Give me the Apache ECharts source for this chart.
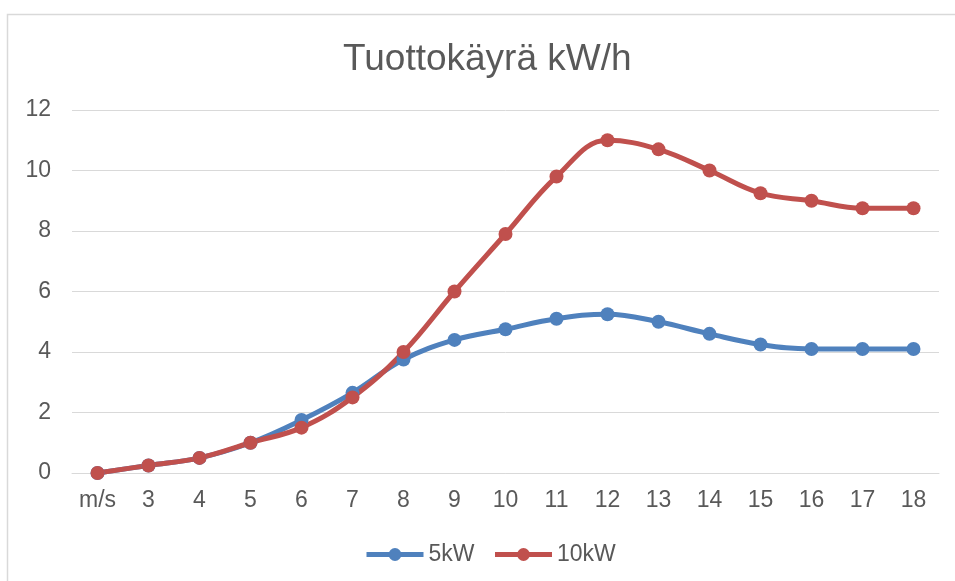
<!DOCTYPE html>
<html>
<head>
<meta charset="utf-8">
<script src="https://cdn.jsdelivr.net/npm/echarts@6/dist/echarts.min.js"></script>
<style>
  html, body { margin: 0; padding: 0; background: #ffffff; }
  #main { width: 955px; height: 581px; }
</style>
</head>
<body>
<div id="main"></div>
<script>
    // data
    var categories = ['m/s', '3', '4', '5', '6', '7', '8', '9', '10', '11', '12', '13', '14', '15', '16', '17', '18'];
    var values5kW = [0, 0.25, 0.5, 1, 1.75, 2.65, 3.75, 4.4, 4.75, 5.1, 5.25, 5, 4.6, 4.25, 4.1, 4.1, 4.1];
    var values10kW = [0, 0.25, 0.5, 1, 1.5, 2.5, 4, 6, 7.9, 9.8, 11, 10.7, 10, 9.25, 9, 8.75, 8.75];
    var yTicks = { min: 0, max: 12, interval: 2 };

    var chartDom = document.getElementById('main');
    var myChart = echarts.init(chartDom);
    var textColor = '#595959';
    var fontFamily = '"Liberation Sans", Arial, sans-serif';

    function makeSeries(name, data, color) {
        return {
            name: name,
            type: 'line',
            data: data,
            smooth: 0.4,
            symbol: 'circle',
            symbolSize: 14,
            lineStyle: { width: 5, color: color },
            itemStyle: { color: color },
            emphasis: { disabled: true }
        };
    }

    var option = {
        animation: false,
        color: ['#4F81BD', '#C0504D'],
        title: {
            text: 'Tuottokäyrä kW/h',
            left: 338,
            top: 36,
            textStyle: {
                fontFamily: fontFamily,
                fontSize: 37,
                fontWeight: 'normal',
                color: textColor
            }
        },
        // light frame of the original chart box
        graphic: [{
            type: 'rect',
            shape: { x: 7.5, y: 14.5, width: 1000, height: 1000 },
            style: { fill: 'none', stroke: '#D9D9D9', lineWidth: 1.5 },
            silent: true
        }],
        legend: {
            bottom: 10,
            left: 359,
            itemWidth: 57,
            itemHeight: 16,
            itemGap: 18,
            lineStyle: { width: 5 },
            textStyle: {
                fontFamily: fontFamily,
                fontSize: 23,
                color: textColor
            },
            data: ['5kW', '10kW']
        },
        grid: {
            left: 72,
            right: 16,
            top: 110,
            bottom: 108
        },
        xAxis: {
            type: 'category',
            data: categories,
            boundaryGap: true,
            axisLine: { show: true, lineStyle: { color: '#D9D9D9', width: 1 } },
            axisTick: { show: false },
            axisLabel: {
                margin: 16,
                fontFamily: fontFamily,
                fontSize: 23,
                color: textColor
            }
        },
        yAxis: {
            type: 'value',
            min: yTicks.min,
            max: yTicks.max,
            interval: yTicks.interval,
            axisLine: { show: false },
            axisTick: { show: false },
            splitLine: { lineStyle: { color: '#D9D9D9', width: 1 } },
            axisLabel: {
                margin: 21,
                fontFamily: fontFamily,
                fontSize: 23,
                color: textColor
            }
        },
        series: [
            makeSeries('5kW', values5kW, '#4F81BD'),
            makeSeries('10kW', values10kW, '#C0504D')
        ]
    };

    myChart.setOption(option);
</script>
</body>
</html>
